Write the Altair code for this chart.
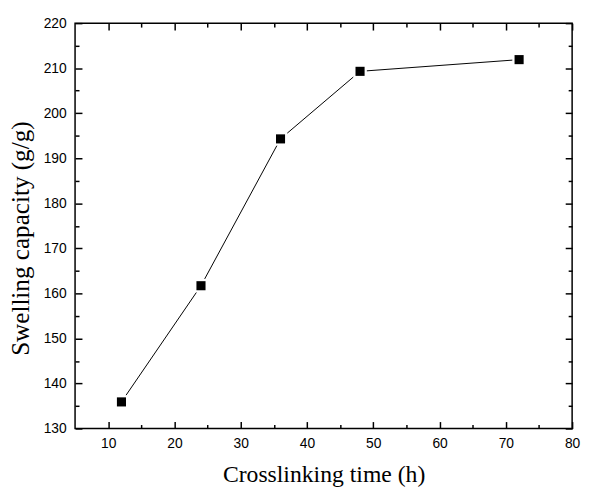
import altair as alt
import pandas as pd

time_h = [12, 24, 36, 48, 72]
swelling = [135.9, 161.7, 194.3, 209.3, 211.9]

x_major = [10, 20, 30, 40, 50, 60, 70, 80]
x_minor = [15, 25, 35, 45, 55, 65, 75]
y_major = [130, 140, 150, 160, 170, 180, 190, 200, 210, 220]
y_minor = [135, 145, 155, 165, 175, 185, 195, 205, 215]

df = pd.DataFrame({"t": time_h, "s": swelling})

xs = alt.Scale(domain=[5, 80], nice=False, zero=False)
ys = alt.Scale(domain=[130, 220], nice=False, zero=False)

LBL = "Liberation Sans"
TTL = "Liberation Serif"


def tick_axis(orient, values, size):
    return alt.Axis(orient=orient, values=values, ticks=True, tickSize=size, offset=-size,
                    tickWidth=1.5, tickColor="black", domain=False, labels=False,
                    grid=False, title=None)


x_label_axis = alt.Axis(orient="bottom", values=x_major, ticks=False, domain=False, grid=False,
                        labelFont=LBL, labelFontSize=14, labelColor="black",
                        labelPadding=8, labelFlush=False, labelOverlap=False,
                        title="Crosslinking time (h)", titleFont=TTL, titleFontSize=24,
                        titleFontWeight="normal", titleColor="black", titlePadding=13)

y_label_axis = alt.Axis(orient="left", values=y_major, ticks=False, domain=False, grid=False,
                        labelFont=LBL, labelFontSize=14, labelColor="black",
                        labelPadding=9, labelFlush=False, labelOverlap=False,
                        title="Swelling capacity (g/g)", titleFont=TTL, titleFontSize=25.5,
                        titleFontWeight="normal", titleColor="black",
                        titleX=-42, titleY=218)


def layer(mark, xaxis, yaxis):
    return mark.encode(
        x=alt.X("t:Q", scale=xs, axis=xaxis),
        y=alt.Y("s:Q", scale=ys, axis=yaxis),
    )


base = alt.Chart(df)

line = layer(base.mark_line(color="black", strokeWidth=1), x_label_axis, y_label_axis)
halo = layer(base.mark_square(size=190, color="white", opacity=1, filled=True),
             tick_axis("bottom", x_major, 7), tick_axis("left", y_major, 7))
pts = layer(base.mark_square(size=85, color="black", opacity=1, filled=True),
            tick_axis("bottom", x_minor, 4), tick_axis("left", y_minor, 4))
inv1 = layer(base.mark_point(opacity=0),
             tick_axis("top", x_major, 7), tick_axis("right", y_major, 7))
inv2 = layer(base.mark_point(opacity=0),
             tick_axis("top", x_minor, 4), tick_axis("right", y_minor, 4))

chart = alt.layer(line, halo, pts, inv1, inv2).resolve_axis(
    x="independent", y="independent"
).properties(
    width=504, height=411,
    autosize=alt.AutoSizeParams(type="none"),
    padding={"left": 68, "top": 12, "right": 9, "bottom": 58},
    background="white",
).configure_view(stroke="black", strokeWidth=1.5)

chart.save("out.html", embed_options={"renderer": "svg", "actions": False})
